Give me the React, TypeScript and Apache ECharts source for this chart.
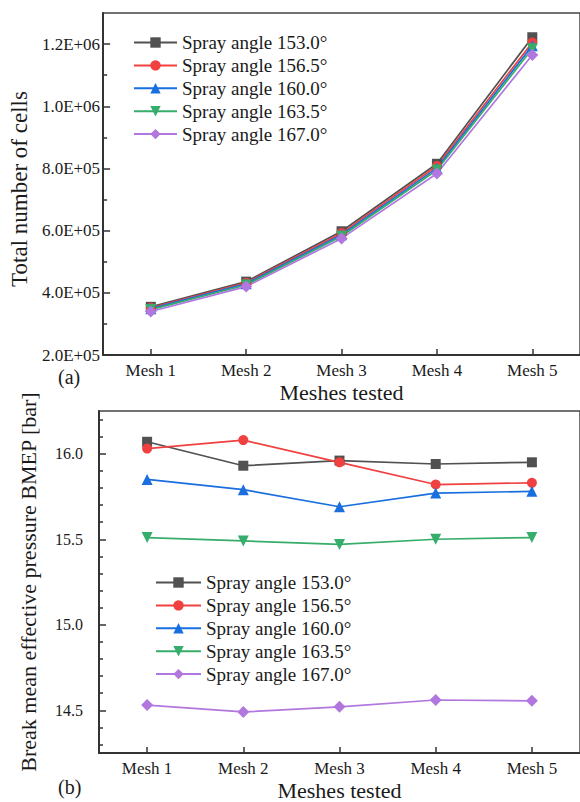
import React, { useEffect, useRef } from "react";
import * as echarts from "echarts";

const categories = ["Mesh 1", "Mesh 2", "Mesh 3", "Mesh 4", "Mesh 5"];
const seriesNames = [
  "Spray angle 153.0°",
  "Spray angle 156.5°",
  "Spray angle 160.0°",
  "Spray angle 163.5°",
  "Spray angle 167.0°",
];

// (a) total number of cells
const cells153 = [355000, 436000, 598000, 815000, 1222000];
const cells156 = [352000, 432000, 592000, 808000, 1205000];
const cells160 = [349000, 429000, 587000, 801000, 1195000];
const cells163 = [346000, 425000, 582000, 795000, 1185000];
const cells167 = [340000, 420000, 575000, 784000, 1165000];

// (b) BMEP [bar]
const bmep153 = [16.07, 15.93, 15.96, 15.94, 15.95];
const bmep156 = [16.03, 16.08, 15.95, 15.82, 15.83];
const bmep160 = [15.85, 15.79, 15.69, 15.77, 15.78];
const bmep163 = [15.51, 15.49, 15.47, 15.5, 15.51];
const bmep167 = [14.53, 14.49, 14.52, 14.56, 14.555];

const cellMajorTicks = [200000, 400000, 600000, 800000, 1000000, 1200000];
const cellMinorTicks = [300000, 500000, 700000, 900000, 1100000];
const bmepMajorTicks = [14.5, 15.0, 15.5, 16.0];
const bmepMinorTicks = [
  14.3, 14.4, 14.6, 14.7, 14.8, 14.9, 15.1, 15.2, 15.3, 15.4, 15.6, 15.7,
  15.8, 15.9, 16.1, 16.2,
];

const colors = ["#515151", "#F14040", "#1A6FDF", "#37AD6B", "#B177DE"];
const symbols = ["rect", "circle", "triangle", "triangle", "diamond"];
const rotations = [0, 0, 0, 180, 0];
const symbolSizes = [10, 10, 11, 11, 12];

const FONT = "Liberation Serif";
const TXT = "#1a1a1a";

function sci(v: number): string {
  const e = Math.floor(Math.log10(v) + 1e-9);
  const m = v / Math.pow(10, e);
  return `${m.toFixed(1)}E+${String(e).padStart(2, "0")}`;
}

export default function App() {
  const ref = useRef<HTMLDivElement>(null);
  useEffect(() => {
    if (!ref.current) return;
    const chart = echarts.init(ref.current, undefined, { renderer: "svg" });
    const cellsData = [cells153, cells156, cells160, cells163, cells167];
    const bmepData = [bmep153, bmep156, bmep160, bmep163, bmep167];

    const grids = [
      { left: 99, top: 13, width: 486, height: 342 },
      { left: 99, top: 411, width: 486, height: 343 },
    ].map((g) => ({
      ...g,
      show: true,
      borderColor: "#444",
      borderWidth: 1.5,
      backgroundColor: "transparent",
    }));

    const xAxis = [0, 1].map((i) => ({
      type: "category",
      gridIndex: i,
      data: categories,
      boundaryGap: true,
      name: "Meshes tested",
      nameLocation: "middle",
      nameGap: 26,
      nameTextStyle: {
        fontFamily: FONT,
        fontSize: 22,
        fontWeight: "normal",
        color: TXT,
      },
      axisLine: { show: true, lineStyle: { color: "#333", width: 2 } },
      axisTick: {
        show: true,
        alignWithLabel: true,
        inside: true,
        length: 6,
        lineStyle: { color: "#333", width: 1.5 },
      },
      axisLabel: {
        fontFamily: FONT,
        fontSize: 17,
        color: TXT,
        margin: 7,
      },
      splitLine: { show: false },
    }));

    const baseY = (
      gridIndex: number,
      min: number,
      max: number,
      labels: number[],
      ticks: number[],
      fmt: (v: number) => string,
      name: string,
      nameGap: number,
      nameSize: number,
      namePadding: number[],
      labelSize: number,
      labelMargin: number
    ) => [
      {
        type: "value",
        gridIndex,
        min,
        max,
        position: "left",
        name,
        nameLocation: "middle",
        nameGap,
        nameTextStyle: {
          fontFamily: FONT,
          fontSize: nameSize,
          fontWeight: "normal",
          color: TXT,
          padding: namePadding,
        },
        axisLine: { show: true, lineStyle: { color: "#333", width: 2 } },
        axisTick: {
          show: true,
          inside: true,
          length: 4,
          customValues: ticks,
          lineStyle: { color: "#333", width: 1.5 },
        },
        axisLabel: {
          show: true,
          customValues: labels,
          formatter: fmt,
          fontFamily: FONT,
          fontSize: labelSize,
          color: TXT,
          margin: labelMargin,
        },
        splitLine: { show: false },
      },
      {
        type: "value",
        gridIndex,
        min,
        max,
        position: "left",
        axisLine: { show: false },
        axisTick: {
          show: true,
          inside: true,
          length: 7,
          customValues: labels,
          lineStyle: { color: "#333", width: 1.5 },
        },
        axisLabel: { show: false },
        splitLine: { show: false },
      },
    ];

    const yAxis = [
      ...baseY(
        0,
        200000,
        1300000,
        cellMajorTicks,
        cellMinorTicks,
        sci,
        "Total number of cells",
        58,
        23,
        [0, 10, 0, 0],
        17,
        3
      ),
      ...baseY(
        1,
        14.25,
        16.25,
        bmepMajorTicks,
        bmepMinorTicks,
        (v: number) => v.toFixed(1),
        "Break mean effective pressure BMEP [bar]",
        60,
        22,
        [0, 0, 0, 0],
        16,
        16
      ),
    ];

    const mkSeries = (data: number[][], xi: number, yi: number) =>
      data.map((d, k) => ({
        type: "line",
        name: seriesNames[k],
        xAxisIndex: xi,
        yAxisIndex: yi,
        data: d,
        symbol: symbols[k],
        symbolRotate: rotations[k],
        symbolSize: symbolSizes[k],
        showAllSymbol: true,
        lineStyle: { color: colors[k], width: 1.7 },
        itemStyle: { color: colors[k] },
        emphasis: { disabled: true },
      }));

    const legendBase = {
      orient: "vertical",
      padding: 0,
      itemHeight: 13,
      itemGap: 3.9,
      textStyle: {
        fontFamily: FONT,
        fontSize: 19,
        fontWeight: "normal",
        color: TXT,
      },
      data: seriesNames,
      selectedMode: false,
    };

    chart.setOption({
      animation: false,
      backgroundColor: "#ffffff",
      textStyle: { fontFamily: FONT },
      grid: grids,
      xAxis,
      yAxis,
      legend: [
        { ...legendBase, left: 133, top: 33, itemWidth: 43 },
        { ...legendBase, left: 155, top: 573, itemWidth: 45 },
      ],
      series: [...mkSeries(cellsData, 0, 0), ...mkSeries(bmepData, 1, 2)],
      graphic: [
        {
          type: "text",
          left: 58,
          top: 367,
          style: { text: "(a)", fontFamily: FONT, fontSize: 20, fill: TXT },
        },
        {
          type: "text",
          left: 58,
          top: 777,
          style: { text: "(b)", fontFamily: FONT, fontSize: 20, fill: TXT },
        },
      ],
    });
    return () => chart.dispose();
  }, []);
  return (
    <div
      ref={ref}
      style={{
        position: "fixed",
        left: 0,
        top: 0,
        width: 580,
        height: 802,
        background: "#fff",
      }}
    />
  );
}
